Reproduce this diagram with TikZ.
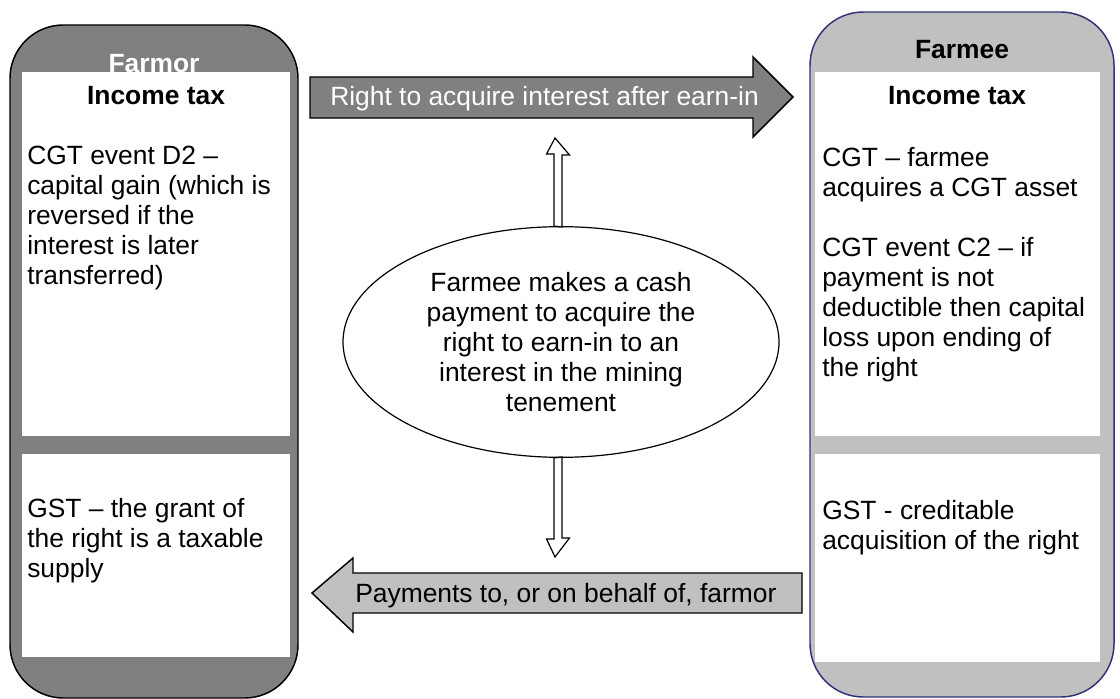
\documentclass[tikz,border=0pt]{standalone}
\usepackage{fontspec}
\setmainfont{Liberation Sans}
\usetikzlibrary{shapes.geometric}
\definecolor{darkg}{HTML}{808080}
\definecolor{lightg}{HTML}{C0C0C0}
\definecolor{navy}{RGB}{50,50,120}
\begin{document}
\begin{tikzpicture}[x=0.75pt,y=-0.75pt,
  body/.style={font=\fontsize{19.8}{22.5}\selectfont, inner sep=0pt, align=left, anchor=base west},
  head/.style={font=\bfseries\fontsize{19.8}{22.5}\selectfont, inner sep=0pt, anchor=base},
  panel/.style={fill=white, draw=none},
  blockarrow/.style={draw=black, line width=1.1pt, line join=miter},
  hollow/.style={draw=black, fill=white, line width=0.9pt, line join=miter}]
\useasboundingbox (0,0) rectangle (1120,699);

% Farmor box
\draw[fill=darkg, draw=black, line width=1.1pt, rounded corners=40pt] (10,25) rectangle (298,698);
\node[head, text=white] (farmor) at (154,73) {Farmor};
\fill[panel] (22,72) rectangle (290,436);
\fill[panel] (22,454) rectangle (290,657);
\node[head] (lit) at (156,104) {Income tax};
% anchor = baseline of the last line
\node[body] (lcgt) at (27,284) {CGT event D2 --\\capital gain (which is\\reversed if the\\interest is later\\transferred)};
\node[body] (lgst) at (27,577) {GST -- the grant of\\the right is a taxable\\supply};

% Farmee box
\draw[fill=lightg, draw=navy, line width=1.1pt, rounded corners=40pt] (810,12) rectangle (1114,697);
\node[head] (farmee) at (962,59) {Farmee};
\fill[panel] (815,72) rectangle (1100,436);
\fill[panel] (815,454) rectangle (1100,662);
\node[head] (rit) at (957,104) {Income tax};
\node[body] (rcgt) at (822,376) {CGT -- farmee\\acquires a CGT asset\\[22.5pt]CGT event C2 -- if\\payment is not\\deductible then capital\\loss upon ending of\\the right};
\node[body] (rgst) at (822,549) {GST - creditable\\acquisition of the right};

% top block arrow
\draw[blockarrow, fill=darkg] (310,77) -- (753,77) -- (753,57) -- (793,97) -- (753,137) -- (753,118) -- (310,118) -- cycle;
\node[body, text=white] (toptxt) at (330,105) {Right to acquire interest after earn-in};

% bottom block arrow
\draw[blockarrow, fill=lightg] (802,573) -- (353,573) -- (353,558) -- (312,593) -- (353,632) -- (353,613) -- (802,613) -- cycle;
\node[body] (bottxt) at (355,602) {Payments to, or on behalf of, farmor};

% ellipse
\node[ellipse, draw=black, line width=0.9pt, fill=white, minimum width=327pt, minimum height=173pt, inner sep=0pt,
      font=\fontsize{19.8}{22.5}\selectfont, align=center] (ell) at (561,342)
  {Farmee makes a cash\\payment to acquire the\\right to earn-in to an\\interest in the mining\\tenement};

% hollow arrows
\coordinate (upTip) at (555,138);
\coordinate (dnTip) at (555,557);
\draw[hollow] (ell.north) ++(-7,0) -- ++(0,-72) -- ++(-7.5,0) -- (upTip) -- ++(14.5,17) -- ++(-7.5,0) -- ++(0,72) -- cycle;
\draw[hollow] (ell.south) ++(-7,0) -- ++(0,81) -- ++(-7.5,0) -- (dnTip) -- ++(14.5,-19) -- ++(-7.5,0) -- ++(0,-81) -- cycle;
\end{tikzpicture}
\end{document}
